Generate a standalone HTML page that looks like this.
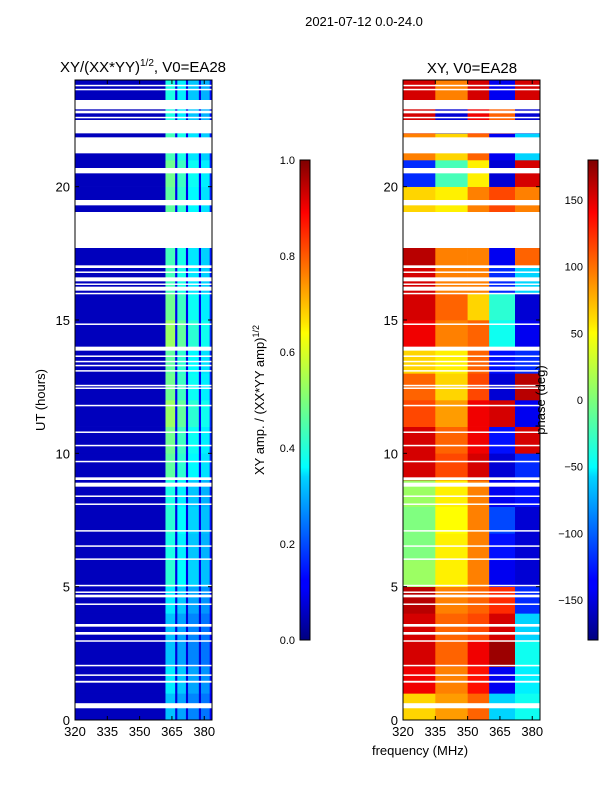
<!DOCTYPE html>
<html><head><meta charset="utf-8"><style>
body{margin:0;background:#fff;}
svg text{font-family:"Liberation Sans",sans-serif;fill:#000;}
</style></head><body>
<svg id="fig" width="600" height="800" xmlns="http://www.w3.org/2000/svg">
<defs>
<linearGradient id="jet" x1="0" y1="1" x2="0" y2="0">
<stop offset="0" stop-color="#00007f"/><stop offset="0.11" stop-color="#0000ff"/><stop offset="0.125" stop-color="#0000ff"/>
<stop offset="0.34" stop-color="#00d4ff"/><stop offset="0.36" stop-color="#0ff"/><stop offset="0.5" stop-color="#7dff7a"/>
<stop offset="0.64" stop-color="#ff0"/><stop offset="0.66" stop-color="#ffe600"/><stop offset="0.89" stop-color="#ff0000"/><stop offset="1" stop-color="#7f0000"/>
</linearGradient>
</defs>
<text x="364" y="26" font-size="13" text-anchor="middle">2021-07-12 0.0-24.0</text>
<text x="143" y="72" font-size="15" text-anchor="middle">XY/(XX*YY)<tspan font-size="10" dy="-6">1/2</tspan><tspan dy="6">, V0=EA28</tspan></text>
<text x="472" y="73" font-size="15" text-anchor="middle">XY, V0=EA28</text>
<g id="ampPanel"></g>
<g id="phasePanel"></g>
<g id="axes"></g>
<rect x="300" y="160" width="10" height="480" fill="url(#jet)" stroke="#000" stroke-width="1"/>
<rect x="588" y="160" width="10" height="480" fill="url(#jet)" stroke="#000" stroke-width="1"/>
<text transform="translate(264,400) rotate(-90)" font-size="13" text-anchor="middle">XY amp. / (XX*YY amp)<tspan font-size="9" dy="-5">1/2</tspan></text>
<text transform="translate(545,400) rotate(-90)" font-size="13" text-anchor="middle">phase (deg)</text>
<text transform="translate(45,400) rotate(-90)" font-size="13" text-anchor="middle">UT (hours)</text>
<text x="420" y="755" font-size="13" text-anchor="middle">frequency (MHz)</text>
</svg>
<script>
const hours=[0,1,2,3,4,5,6,7,8,9,10,11,12,13,14,15,16,17,18,19,20,21,22,23];
const ampLevel=[0.3,0.35,0.3,0.3,0.35,0.42,0.4,0.42,0.4,0.48,0.5,0.55,0.5,0.48,0.55,0.5,0.45,0.45,0.45,0.48,0.5,0.45,0.4,0.4];
const freqEdges=[320,362,366.5,367.5,371.5,372.5,377.5,378.5,382.5,384];
const freqProfile=[0.0,0.85,0.1,0.75,0.1,0.65,0.1,0.6,0.2];
const phaseRegions=[320,335,350,360,372,384];
const phase=[[60,80,100,-60,-40],[140,90,130,-140,-50],[150,100,140,170,-40],[150,100,110,150,-60],[160,90,100,120,-120],[10,50,90,-140,-150],[0,50,90,-130,-150],[0,45,90,-110,-150],[10,50,90,-140,-130],[150,110,150,-150,-120],[150,100,140,-130,150],[110,80,140,150,-140],[100,60,110,-150,160],[60,50,100,-130,-120],[140,90,100,-40,-140],[150,100,60,-30,-150],[150,90,90,-120,-60],[160,90,90,-140,100],[160,90,90,-140,100],[60,50,90,110,90],[-120,-20,50,-150,150],[90,60,100,-140,-60],[150,-150,140,100,-150],[150,90,150,-140,150]];
const gaps=[[0.44,0.63],[1.4,1.47],[1.67,1.71],[2.03,2.07],[2.95,2.99],[3.2,3.3],[3.5,3.6],[4.33,4.37],[4.6,4.7],[4.78,4.82],[5.03,5.07],[6.02,6.06],[6.51,6.55],[7.08,7.12],[8.08,8.12],[8.38,8.42],[8.75,8.9],[9.0,9.1],[9.68,9.72],[10.28,10.32],[10.78,10.82],[11.78,11.82],[12.43,12.47],[12.53,12.57],[13.08,13.12],[13.28,13.32],[13.43,13.47],[13.63,13.67],[13.85,14.0],[14.83,14.87],[15.98,16.02],[16.1,16.25],[16.33,16.37],[16.45,16.6],[16.78,16.82],[16.95,17.05],[17.7,19.05],[19.3,19.5],[20.5,20.7],[21.25,21.85],[22.0,22.5],[22.58,22.62],[22.75,22.85],[22.9,23.25],[23.63,23.67],[23.78,23.82]];
const xTicks=[320,335,350,365,380];
const yTicks=[0,5,10,15,20];
const ampTicks=[0,0.2,0.4,0.6,0.8,1.0];
const phaseTicks=[-150,-100,-50,0,50,100,150];

const NS='http://www.w3.org/2000/svg';
const Y0=720,Y1=80,FMIN=320,FMAX=383.6;
function yS(h){return Y0-(h/24)*(Y0-Y1);}
function xS(f,left){return left+(f-FMIN)/(FMAX-FMIN)*137;}
function jet(v){v=Math.max(0,Math.min(1,v));
 function c(x){return Math.round(255*Math.max(0,Math.min(1,1.5-Math.abs(x))));}
 const r=c(4*v-3),g=c(4*v-2),b=c(4*v-1);return 'rgb('+r+','+g+','+b+')';}
function mk(tag,attrs,parent){const e=document.createElementNS(NS,tag);for(const k in attrs)e.setAttribute(k,attrs[k]);parent.appendChild(e);return e;}
const amp=document.getElementById('ampPanel'),ph=document.getElementById('phasePanel'),ax=document.getElementById('axes');
hours.forEach((h,i)=>{
 for(let j=0;j<freqProfile.length;j++){
  const x0=xS(freqEdges[j],75),x1=Math.min(xS(freqEdges[j+1],75),212);
  const r=mk('rect',{x:x0,y:yS(h+1),width:x1-x0+0.3,height:yS(h)-yS(h+1)+0.3,fill:jet(0.06+ampLevel[i]*freqProfile[j])},amp);
  
  
 }
 for(let j=0;j<5;j++){
  const x0=xS(phaseRegions[j],403),x1=Math.min(xS(phaseRegions[j+1],403),540);
  const r=mk('rect',{x:x0,y:yS(h+1),width:x1-x0+0.3,height:yS(h)-yS(h+1)+0.3,fill:jet((phase[i][j]+180)/360)},ph);
  
  
 }
});
[75,403].forEach(left=>{
 gaps.forEach(g=>{
  const r=mk('rect',{x:left,y:yS(g[1]),width:137,height:Math.max(1.5,yS(g[0])-yS(g[1])),fill:'#fff'},left==75?amp:ph);
  
  
 });
 const fr=mk('rect',{x:left,y:80,width:137,height:640,fill:'none',stroke:'#000','stroke-width':1},ax);
 
 
 xTicks.forEach(t=>{const x=xS(t,left);
  mk('line',{x1:x,x2:x,y1:720,y2:716,stroke:'#000'},ax);mk('line',{x1:x,x2:x,y1:80,y2:84,stroke:'#000'},ax);
  const tx=mk('text',{x:x,y:736,'font-size':13,'text-anchor':'middle'},ax);tx.textContent=t;
  
  });
 yTicks.forEach(t=>{const y=yS(t);
  mk('line',{x1:left,x2:left+4,y1:y,y2:y,stroke:'#000'},ax);mk('line',{x1:left+137,x2:left+133,y1:y,y2:y,stroke:'#000'},ax);
  const tx=mk('text',{x:left-5,y:y+5,'font-size':13,'text-anchor':'end'},ax);tx.textContent=t;
  
  });
});
ampTicks.forEach(t=>{const y=640-t*480;
 mk('line',{x1:300,x2:303,y1:y,y2:y,stroke:'#000'},ax);
 const tx=mk('text',{x:295,y:y+4,'font-size':11,'text-anchor':'end'},ax);tx.textContent=t.toFixed(1);
 
 });
phaseTicks.forEach(t=>{const y=400-t/180*240;
 mk('line',{x1:588,x2:591,y1:y,y2:y,stroke:'#000'},ax);
 const tx=mk('text',{x:583,y:y+4,'font-size':11,'text-anchor':'end'},ax);tx.textContent=(t<0?'\u2212'+(-t):t);
 
 });
</script>
</body></html>
